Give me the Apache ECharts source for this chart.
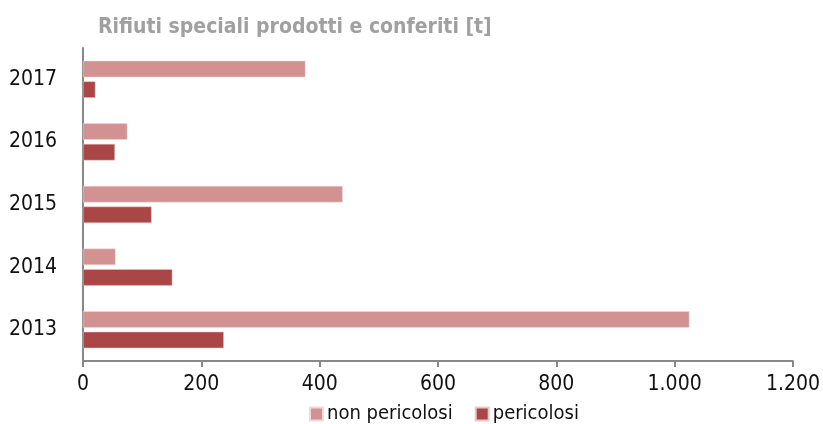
<!DOCTYPE html>
<html><head><meta charset="utf-8">
<script src="https://cdn.jsdelivr.net/npm/echarts@6/dist/echarts.min.js"></script>
<style>html,body{margin:0;padding:0;background:#fff}#c{width:823px;height:424px}</style>
</head><body><div id="c"></div>
<script>
const categories = ['2013', '2014', '2015', '2016', '2017'];
const nonPericolosi = [1025, 55, 439, 75, 376];
const pericolosi = [238, 151, 116, 54, 21];
const xTicks = [0, 200, 400, 600, 800, 1000, 1200];
const FONT = '"Liberation Sans Narrow", "DejaVu Sans Condensed", sans-serif';
const chart = echarts.init(document.getElementById('c'));
chart.setOption({
  animation: false,
  title: {
    text: 'Rifiuti speciali prodotti e conferiti [t]',
    left: 93, top: 12,
    textStyle: { fontFamily: FONT, fontSize: 21, fontWeight: 'bold', color: '#a0a0a0' }
  },
  legend: {
    top: 399, left: 304,
    itemWidth: 13, itemHeight: 13, itemGap: 22,
    icon: 'rect',
    textStyle: { fontFamily: FONT, fontSize: 20, color: '#111', padding: [0, 0, 0, -1] },
    data: ['non pericolosi', 'pericolosi']
  },
  grid: { left: 83, right: 30, top: 48, bottom: 63, containLabel: false },
  xAxis: {
    type: 'value', min: 0, max: 1200, interval: 200,
    axisLine: { show: true, lineStyle: { color: '#888', width: 2 } },
    axisTick: { show: true, length: 6, lineStyle: { color: '#888', width: 2 } },
    splitLine: { show: false },
    axisLabel: {
      fontFamily: FONT, fontSize: 21, color: '#111', margin: 13,
      formatter: v => xTicks.includes(v) ? v.toLocaleString('it-IT').replace(/\u00a0/g, '.') : ''
    }
  },
  yAxis: {
    type: 'category', data: categories,
    axisLine: { show: true, lineStyle: { color: '#888', width: 2 } },
    axisTick: { show: false },
    axisLabel: { fontFamily: FONT, fontSize: 21, color: '#111', margin: 26 }
  },
  series: [
    { name: 'non pericolosi', type: 'bar', data: nonPericolosi, barWidth: 16.5, barGap: '25%',
      itemStyle: { color: '#d29292', borderColor: '#f0dada', borderWidth: 0.5 } },
    { name: 'pericolosi', type: 'bar', data: pericolosi, barWidth: 16.5, barGap: '25%',
      itemStyle: { color: '#aa4646', borderColor: '#e8c8c8', borderWidth: 0.5 } }
  ]
});
</script></body></html>
